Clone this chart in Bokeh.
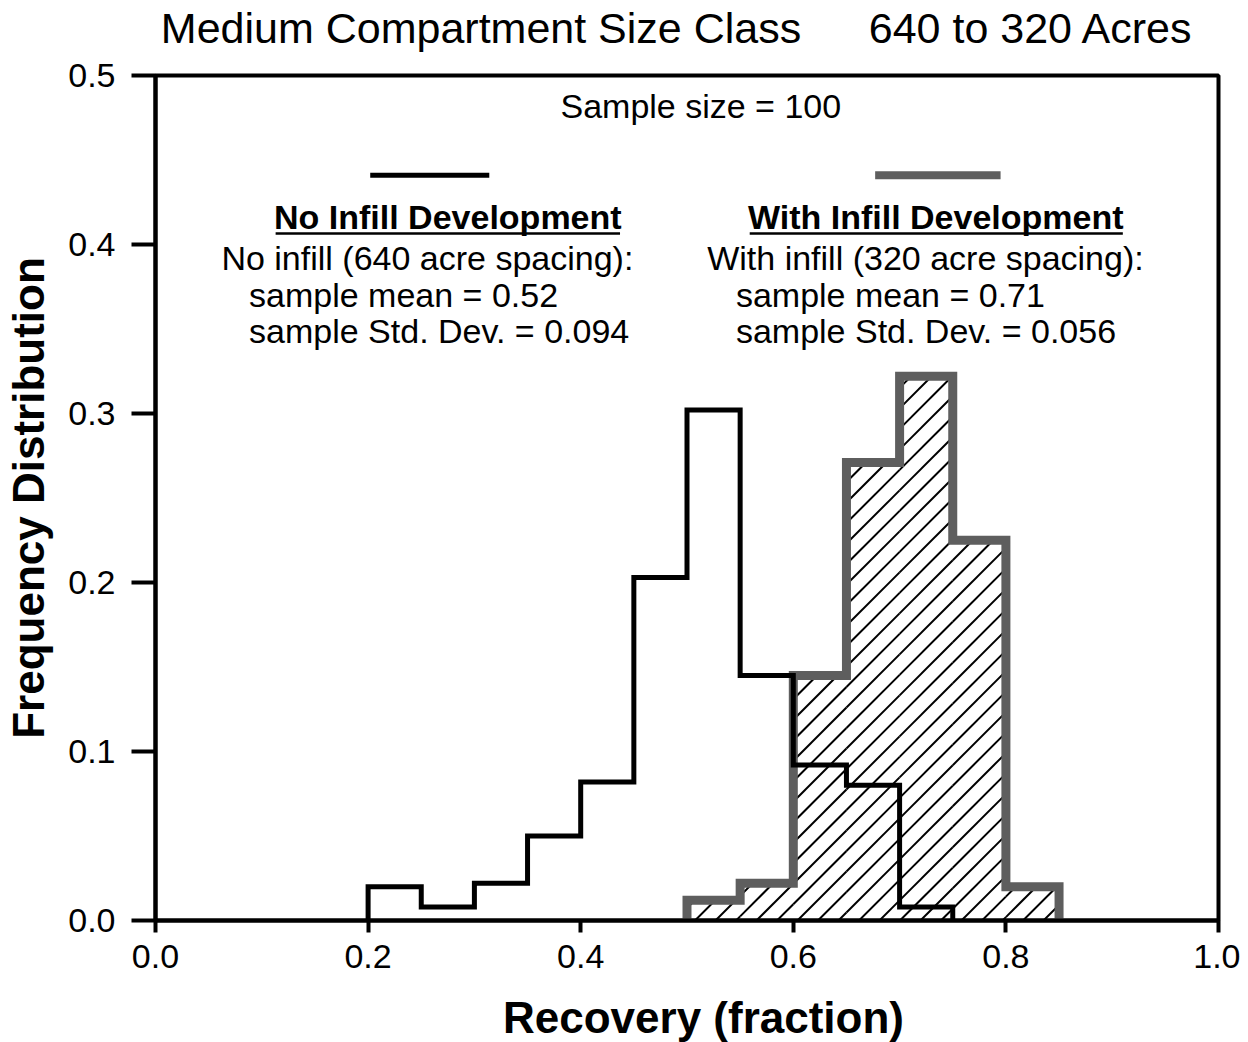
from bokeh.plotting import figure
from bokeh.models import Range1d, FixedTicker, PrintfTickFormatter, Label
from bokeh.layouts import column
from bokeh.embed import file_html
from bokeh.resources import INLINE

# ---------------- data ----------------
no_infill_edges = [0.20, 0.25, 0.30, 0.35, 0.40, 0.45, 0.50, 0.55, 0.60, 0.65, 0.70, 0.75]
no_infill_freq = [0.020, 0.008, 0.022, 0.050, 0.082, 0.203, 0.302, 0.145, 0.092, 0.080, 0.008]
infill_edges = [0.50, 0.55, 0.60, 0.65, 0.70, 0.75, 0.80, 0.85]
infill_freq = [0.012, 0.022, 0.145, 0.271, 0.322, 0.225, 0.020]
x_ticks = [0.0, 0.2, 0.4, 0.6, 0.8, 1.0]
y_ticks = [0.0, 0.1, 0.2, 0.3, 0.4, 0.5]

title_left = "Medium Compartment Size Class"
title_right = "640 to 320 Acres"
x_label = "Recovery (fraction)"
y_label = "Frequency Distribution"
sample_text = "Sample size = 100"
no_infill_head = "No Infill Development"
infill_head = "With Infill Development"
no_infill_lines = ["No infill (640 acre spacing):", "sample mean = 0.52", "sample Std. Dev. = 0.094"]
infill_lines = ["With infill (320 acre spacing):", "sample mean = 0.71", "sample Std. Dev. = 0.056"]

# ---------------- style / layout ----------------
FONT = "Liberation Sans"
GRAY = "#5e5e5e"
W = 1240
FRAME_W_PX = 1063.0   # frame width in pixels (x: 0..1)
FRAME_H_PX = 845.0    # frame height in pixels (y: 0..0.5)
HATCH_SPACING_PX = 20.5
HATCH_PHASE = 0.5268


def step_outline(edges, vals):
    xs, ys = [edges[0]], [0.0]
    for i, v in enumerate(vals):
        xs += [edges[i], edges[i + 1]]
        ys += [v, v]
    xs.append(edges[-1])
    ys.append(0.0)
    return xs, ys


def hatch_segments(edges, vals):
    """45-degree (in screen pixels) hatch lines clipped to each histogram bar."""
    m = (FRAME_W_PX / 1.0) / (FRAME_H_PX / 0.5)   # data-y per data-x for 45 deg
    dx = HATCH_SPACING_PX / FRAME_W_PX
    x0s, y0s, x1s, y1s = [], [], [], []
    k_min = int((edges[0] - 0.5 / m - HATCH_PHASE) / dx) - 2
    k_max = int((edges[-1] - HATCH_PHASE) / dx) + 2
    for i, h in enumerate(vals):
        a, b = edges[i], edges[i + 1]
        for k in range(k_min, k_max + 1):
            c = HATCH_PHASE + k * dx
            xs = max(a, c)
            xe = min(b, c + h / m)
            if xe <= xs:
                continue
            x0s.append(xs)
            y0s.append(m * (xs - c))
            x1s.append(xe)
            y1s.append(m * (xe - c))
    return x0s, y0s, x1s, y1s


def lab(fig, x, y, text, size, align="left", bold=False):
    fig.add_layout(Label(x=x, y=y, text=text, text_font=FONT, text_font_size=size,
                         text_align=align, text_baseline="middle", text_color="black",
                         text_font_style="bold" if bold else "normal"))


def strip(height):
    s = figure(width=W, height=height, output_backend="svg", toolbar_location=None,
               x_range=Range1d(0, 1), y_range=Range1d(0, 1),
               x_axis_type=None, y_axis_type=None, title=None)
    s.min_border = 0
    s.outline_line_color = None
    s.xgrid.visible = False
    s.ygrid.visible = False
    s.background_fill_color = "white"
    s.border_fill_color = "white"
    return s


# ---------------- title strip ----------------
t = strip(55)
lab(t, 0.005, 0.491, title_left, "43px")
lab(t, 0.671, 0.491, title_right, "43px")

# ---------------- main plot ----------------
p = figure(width=W, height=931, output_backend="svg", toolbar_location=None,
           x_range=Range1d(0, 1), y_range=Range1d(0, 0.5), title=None)
p.min_border_left = 155
p.min_border_right = 22
p.min_border_top = 20
p.min_border_bottom = 66
p.background_fill_color = "white"
p.border_fill_color = "white"
p.outline_line_color = "black"
p.outline_line_width = 4
p.xgrid.visible = False
p.ygrid.visible = False

for ax in (p.xaxis[0], p.yaxis[0]):
    ax.axis_line_width = 4
    ax.axis_line_color = "black"
    ax.major_tick_line_width = 4
    ax.major_tick_line_color = "black"
    ax.minor_tick_line_color = None
    ax.major_tick_in = 0
    ax.major_label_text_font = FONT
    ax.major_label_text_font_size = "34px"
    ax.major_label_text_color = "black"
    ax.axis_label_text_font = FONT
    ax.axis_label_text_font_style = "bold"
    ax.axis_label_text_font_size = "44px"
    ax.axis_label_text_color = "black"
    ax.formatter = PrintfTickFormatter(format="%.1f")

p.xaxis[0].ticker = FixedTicker(ticks=x_ticks)
p.yaxis[0].ticker = FixedTicker(ticks=y_ticks)
p.xaxis[0].major_tick_out = 12
p.yaxis[0].major_tick_out = 24
p.xaxis[0].major_label_standoff = 12
p.yaxis[0].major_label_standoff = 16
p.yaxis[0].axis_label = y_label
p.yaxis[0].axis_label_standoff = 12

# hatched fill of the infill histogram (45 degree lines)
hx0, hy0, hx1, hy1 = hatch_segments(infill_edges, infill_freq)
p.segment(hx0, hy0, hx1, hy1, line_color="black", line_width=2)

# outlines
ix, iy = step_outline(infill_edges, infill_freq)
p.line(ix, iy, line_color=GRAY, line_width=9, line_join="miter")
nx, ny = step_outline(no_infill_edges, no_infill_freq)
p.line(nx, ny, line_color="black", line_width=5, line_join="miter")

# legend key lines
p.line([0.202, 0.314], [0.441, 0.441], line_color="black", line_width=5)
p.line([0.677, 0.795], [0.441, 0.441], line_color=GRAY, line_width=8)

lab(p, 0.513, 0.482, sample_text, "34px", align="center")

lab(p, 0.275, 0.416, no_infill_head, "34px", align="center", bold=True)
lab(p, 0.734, 0.416, infill_head, "34px", align="center", bold=True)
p.line([0.113, 0.437], [0.4065, 0.4065], line_color="black", line_width=2.5)
p.line([0.559, 0.910], [0.4065, 0.4065], line_color="black", line_width=2.5)

row_y = [0.392, 0.370, 0.349]
row_x_left = [0.062, 0.088, 0.088]
row_x_right = [0.519, 0.546, 0.546]
for i in range(3):
    lab(p, row_x_left[i], row_y[i], no_infill_lines[i], "34px")
    lab(p, row_x_right[i], row_y[i], infill_lines[i], "34px")

# ---------------- x-axis title strip ----------------
q = strip(56)
lab(q, 0.5155, 0.446, x_label, "44px", align="center", bold=True)

layout = column(t, p, q, spacing=0)
open("out.html", "w").write(file_html(layout, INLINE))
